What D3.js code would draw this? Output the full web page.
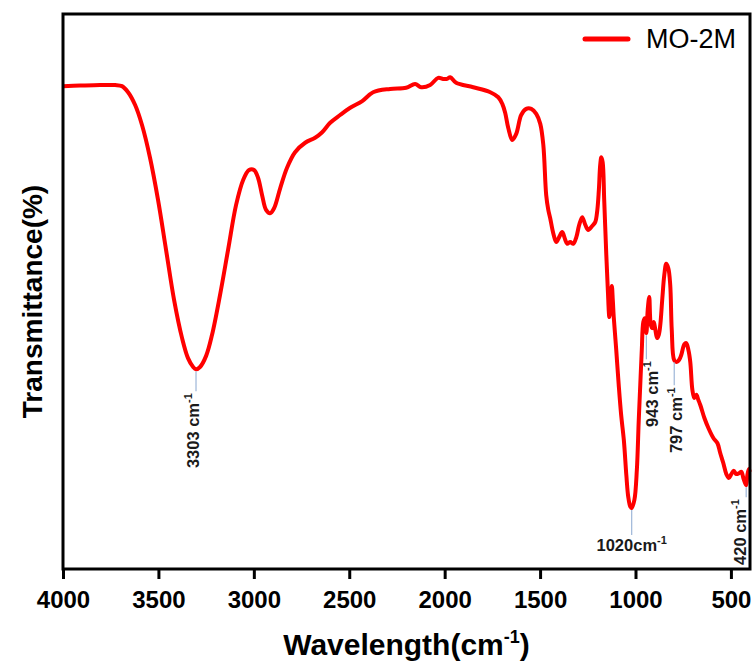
<!DOCTYPE html>
<html>
<head>
<meta charset="utf-8">
<script src="https://cdn.jsdelivr.net/npm/d3@7"></script>
<style>
	body { margin: 0; background: #fff; }
	svg { display: block; font-family: "Liberation Sans", Arial, sans-serif; }
</style>
</head>
<body>
<script>
var wavenumber = [4000, 3911, 3806, 3727, 3691, 3659, 3622, 3586, 3544, 3502, 3460, 3418, 3376, 3345, 3318, 3303, 3282, 3250, 3219, 3177,
	3135, 3093, 3056, 3025, 2999, 2978, 2957, 2936, 2915, 2894, 2862, 2826, 2784, 2731, 2679, 2642, 2600, 2548, 2495, 2432,
	2375, 2286, 2202, 2155, 2123, 2076, 2034, 2008, 1987, 1971, 1940, 1850, 1761, 1719, 1698, 1683, 1667, 1646, 1625, 1599,
	1573, 1546, 1520, 1499, 1483, 1468, 1457, 1447, 1431, 1415, 1400, 1384, 1368, 1358, 1342, 1326, 1310, 1295, 1279, 1263,
	1248, 1227, 1211, 1200, 1192, 1185, 1179, 1172, 1164, 1153, 1145, 1137, 1130, 1124, 1119, 1114, 1101, 1088, 1075, 1061,
	1048, 1038, 1027, 1020, 1006, 993, 983, 975, 967, 959, 951, 943, 936, 928, 920, 912, 904, 896, 887, 878,
	870, 860, 849, 839, 828, 818, 810, 797, 784, 771, 760, 744, 734, 723, 713, 702, 692, 681, 671, 660,
	639, 618, 592, 571, 556, 540, 524, 511, 498, 485, 472, 456, 445, 435, 420, 414, 406, 401]

var transmittance = [87.0, 87.1, 87.2, 87.2, 87.0, 85.9, 83.6, 80.0, 74.1, 66.5, 57.5, 48.5, 41.6, 38.0, 36.4, 36.0, 36.4, 38.4, 42.2, 49.4,
	57.5, 65.6, 70.1, 71.9, 71.9, 70.5, 67.4, 64.7, 64.1, 65.0, 68.6, 72.3, 75.1, 76.8, 77.7, 78.7, 80.4, 81.8, 83.1, 84.3,
	85.9, 86.5, 86.7, 87.4, 86.8, 87.2, 88.5, 88.3, 88.3, 88.6, 87.6, 86.8, 85.9, 85.0, 83.8, 82.2, 79.5, 77.3, 78.4, 81.8,
	82.9, 82.9, 82.0, 80.2, 76.4, 67.4, 64.7, 63.2, 60.5, 58.9, 59.8, 60.7, 59.3, 58.6, 58.9, 58.6, 59.8, 62.0, 63.4, 62.0,
	61.1, 61.8, 62.5, 64.7, 68.3, 72.8, 74.2, 73.3, 66.5, 56.6, 50.3, 45.4, 48.5, 51.0, 48.5, 45.4, 39.5, 33.2, 27.7, 23.2,
	16.9, 13.0, 11.2, 11.0, 12.4, 17.8, 26.8, 33.2, 39.5, 44.5, 45.2, 42.5, 46.7, 49.0, 44.0, 43.4, 44.5, 43.1, 41.6, 42.2,
	44.0, 48.5, 53.0, 55.0, 54.2, 51.2, 43.1, 37.6, 37.3, 37.7, 38.6, 40.5, 40.7, 39.5, 37.3, 32.3, 30.8, 31.4, 30.5, 29.5,
	27.2, 25.4, 23.6, 22.7, 20.9, 19.1, 17.1, 16.4, 17.1, 17.7, 17.1, 17.3, 17.5, 16.4, 15.1, 16.9, 18.0, 17.5]

var xTicks = [4000, 3500, 3000, 2500, 2000, 1500, 1000, 500]

var peakPositions = [3303, 1020, 943, 797, 420]
var peakLabels = ['3303 cm', '1020cm', '943 cm', '797 cm', '420 cm']

var seriesName = 'MO-2M'

var width = 756, height = 668
var margin = { left: 63, right: 6, top: 14, bottom: 99 }

var svg = d3.select('body').append('svg')
	.attr('width', width)
	.attr('height', height)

var x = d3.scaleLinear()
	.domain([4000, 400])
	.range([margin.left, width - margin.right])

var y = d3.scaleLinear()
	.domain([0, 100])
	.range([height - margin.bottom, margin.top])

var data = wavenumber.map(function(w, i) { return { w: w, t: transmittance[i] } })

var line = d3.line()
	.x(function(d) { return x(d.w) })
	.y(function(d) { return y(d.t) })
	.curve(d3.curveCatmullRom.alpha(0.5))

svg.append('path')
	.datum(data)
	.attr('d', line)
	.attr('fill', 'none')
	.attr('stroke', '#ff0000')
	.attr('stroke-width', 4)
	.attr('stroke-linejoin', 'round')

// peak markers
var annot = svg.append('g').attr('id', 'peaks')
var layout = {
	'3303': { len: 20, dx: 3, horiz: false },
	'1020': { len: 25, dx: 0, horiz: true },
	'943': { len: 24, dx: 12, horiz: false },
	'797': { len: 23, dx: 8, horiz: false },
	'420': { len: 10, dx: 0, horiz: false }
}

peakPositions.forEach(function(p, i) {
	var d = data[wavenumber.indexOf(p)]
	var px = x(p), py = y(d.t) + 2
	var l = layout[p]
	annot.append('line')
		.attr('x1', px).attr('x2', px)
		.attr('y1', py).attr('y2', py + l.len)
		.attr('stroke', '#9db6d8')
		.attr('stroke-width', 1.2)
	var t = annot.append('text')
		.attr('font-size', 16.5)
		.attr('font-weight', 'bold')
		.attr('fill', '#1a1a1a')
	if(l.horiz) {
		t.attr('x', px).attr('y', py + l.len + 16).attr('text-anchor', 'middle')
	} else {
		t.attr('text-anchor', 'end')
			.attr('transform', 'translate(' + (px + l.dx) + ',' + (py + l.len + 2) + ') rotate(-90)')
	}
	t.append('tspan').text(peakLabels[i])
	t.append('tspan').attr('font-size', 11).attr('dy', -7).text('-1')
})

// frame
svg.append('rect')
	.attr('x', margin.left)
	.attr('y', margin.top)
	.attr('width', width - margin.left - margin.right)
	.attr('height', height - margin.top - margin.bottom)
	.attr('fill', 'none')
	.attr('stroke', '#000')
	.attr('stroke-width', 3)

var xAxis = svg.append('g')
	.attr('transform', 'translate(0,' + (height - margin.bottom) + ')')
	.call(d3.axisBottom(x).tickValues(xTicks).tickSize(10).tickPadding(12).tickFormat(d3.format('d')))
xAxis.select('.domain').remove()
xAxis.selectAll('line').attr('stroke-width', 3)
xAxis.selectAll('text')
	.attr('font-size', 24)
	.attr('font-weight', 'bold')
	.attr('font-family', '"Liberation Sans", Arial, sans-serif')
	.attr('fill', '#000')

var xTitle = svg.append('text')
	.attr('x', (margin.left + width - margin.right) / 2)
	.attr('y', 655)
	.attr('text-anchor', 'middle')
	.attr('font-size', 30)
	.attr('font-weight', 'bold')
xTitle.append('tspan').text('Wavelength(cm')
xTitle.append('tspan').attr('font-size', 18).attr('dy', -12).text('-1')
xTitle.append('tspan').attr('dy', 12).text(')')

svg.append('text')
	.attr('transform', 'translate(42,' + ((margin.top + height - margin.bottom) / 2 + 10) + ') rotate(-90)')
	.attr('text-anchor', 'middle')
	.attr('font-size', 28)
	.attr('font-weight', 'bold')
	.text('Transmittance(%)')

// legend
var legend = svg.append('g').attr('id', 'legend')
legend.append('line')
	.attr('x1', 585).attr('x2', 628)
	.attr('y1', 39).attr('y2', 39)
	.attr('stroke', '#ff0000')
	.attr('stroke-width', 5)
	.attr('stroke-linecap', 'round')
legend.append('text')
	.attr('x', 646)
	.attr('y', 48)
	.attr('font-size', 27)
	.text(seriesName)
</script>
</body>
</html>
